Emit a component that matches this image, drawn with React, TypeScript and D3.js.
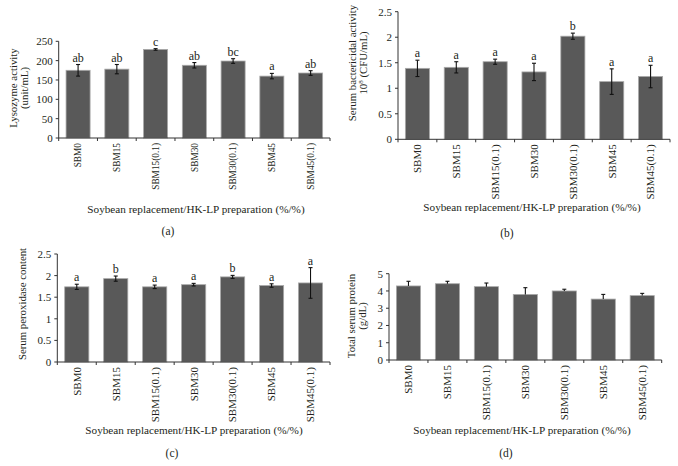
import React from "react";
import * as d3 from "d3";

const categories = ["SBM0", "SBM15", "SBM15(0.1)", "SBM30", "SBM30(0.1)", "SBM45", "SBM45(0.1)"];

const lysozyme = [175, 178, 229, 188, 199, 160, 168];
const lysozymeErr = [15, 12, 2, 7, 6, 7, 6];
const lysozymeLetters = ["ab", "ab", "c", "ab", "bc", "a", "ab"];
const lysozymeTicks = [0, 50, 100, 150, 200, 250];

const bactericidal = [1.39, 1.41, 1.52, 1.32, 2.02, 1.13, 1.23];
const bactericidalErr = [0.16, 0.11, 0.05, 0.17, 0.06, 0.25, 0.22];
const bactericidalLetters = ["a", "a", "a", "a", "b", "a", "a"];
const bactericidalTicks = [0, 0.5, 1, 1.5, 2, 2.5];

const peroxidase = [1.74, 1.93, 1.74, 1.79, 1.97, 1.77, 1.83];
const peroxidaseErr = [0.06, 0.06, 0.04, 0.03, 0.035, 0.04, 0.355];
const peroxidaseLetters = ["a", "b", "a", "a", "b", "a", "a"];
const peroxidaseTicks = [0, 0.5, 1, 1.5, 2, 2.5];

const protein = [4.29, 4.42, 4.25, 3.8, 4.0, 3.53, 3.73];
const proteinErr = [0.27, 0.14, 0.21, 0.39, 0.1, 0.27, 0.13];
const proteinTicks = [0, 1, 2, 3, 4, 5];

const xTitle = "Soybean replacement/HK-LP preparation (%/%)";

const FONT = "'Liberation Serif', 'DejaVu Serif', serif";
const TEXT = "#231f20";

type PanelProps = {
  left: number;
  right: number;
  yTopPx: number;
  yZeroPx: number;
  domainMax: number;
  ticks: number[];
  values: number[];
  errs: number[];
  letters?: string[];
  upperOnly?: boolean;
  catFont: number;
  yTitleLines: React.ReactNode[];
  yTitleX: number[];
  yTitleY: number;
  xTitleX: number;
  xTitleY: number;
  sub: string;
  subX: number;
  subY: number;
};

function Panel(p: PanelProps) {
  const x = d3.scaleBand<string>().domain(categories).range([p.left, p.right]).paddingInner(0.38).paddingOuter(0.19);
  const y = d3.scaleLinear().domain([0, p.domainMax]).range([p.yZeroPx, p.yTopPx]);
  const step = x.step();
  return (
    <g fontFamily={FONT} fill={TEXT}>
      {categories.map((c, i) => {
        const bx = x(c)!;
        const cx = bx + x.bandwidth() / 2;
        const v = p.values[i];
        const e = p.errs[i];
        const top = y(v + e);
        const bot = p.upperOnly ? y(v) : y(v - e);
        return (
          <g key={c}>
            <rect x={bx} y={y(v)} width={x.bandwidth()} height={y(0) - y(v)} fill="#595959" stroke="#a9a9a9" strokeWidth={0.8} />
            <line x1={cx} x2={cx} y1={top} y2={bot} stroke="#111" strokeWidth={1.1} />
            <line x1={cx - 2} x2={cx + 2} y1={top} y2={top} stroke="#111" strokeWidth={1.1} />
            {!p.upperOnly && <line x1={cx - 2} x2={cx + 2} y1={bot} y2={bot} stroke="#111" strokeWidth={1.1} />}
            {p.letters && (
              <text x={cx} y={top - 3} textAnchor="middle" fontSize={12}>
                {p.letters[i]}
              </text>
            )}
            <text
              transform={`translate(${cx + p.catFont * 0.35},${p.yZeroPx + 5}) rotate(-90)`}
              textAnchor="end"
              fontSize={p.catFont}
            >
              {c}
            </text>
          </g>
        );
      })}
      <line x1={p.left} x2={p.left} y1={p.yTopPx} y2={p.yZeroPx} stroke="#333" strokeWidth={1} />
      <line x1={p.left} x2={p.right} y1={p.yZeroPx} y2={p.yZeroPx} stroke="#333" strokeWidth={1} />
      {p.ticks.map((t) => (
        <g key={t}>
          <line x1={p.left - 3} x2={p.left} y1={y(t)} y2={y(t)} stroke="#333" />
          <text x={p.left - 6} y={y(t) + 4} textAnchor="end" fontSize={11}>
            {String(t)}
          </text>
        </g>
      ))}
      {d3.range(categories.length + 1).map((i) => (
        <line key={i} x1={p.left + i * step} x2={p.left + i * step} y1={p.yZeroPx} y2={p.yZeroPx + 3} stroke="#333" />
      ))}
      {p.yTitleLines.map((line, i) => (
        <text key={i} transform={`translate(${p.yTitleX[i]},${p.yTitleY}) rotate(-90)`} textAnchor="middle" fontSize={10.8}>
          {line}
        </text>
      ))}
      <text x={p.xTitleX} y={p.xTitleY} textAnchor="middle" fontSize={11.2}>
        {xTitle}
      </text>
      <text x={p.subX} y={p.subY} textAnchor="middle" fontSize={11.5}>
        {p.sub}
      </text>
    </g>
  );
}

export default function App() {
  return (
    <svg width={678} height={466} style={{ position: "absolute", left: 0, top: 0, background: "#fff" }}>
      <rect width={678} height={466} fill="#fff" />
      <Panel
        left={58.7}
        right={330}
        yTopPx={41.3}
        yZeroPx={138}
        domainMax={250}
        ticks={lysozymeTicks}
        values={lysozyme}
        errs={lysozymeErr}
        letters={lysozymeLetters}
        catFont={9.3}
        yTitleLines={["Lysozyme activity", "(unit/mL)"]}
        yTitleX={[17, 28]}
        yTitleY={88}
        xTitleX={196}
        xTitleY={213}
        sub="(a)"
        subX={168}
        subY={235}
      />
      <Panel
        left={398}
        right={670}
        yTopPx={11.7}
        yZeroPx={139.3}
        domainMax={2.5}
        ticks={bactericidalTicks}
        values={bactericidal}
        errs={bactericidalErr}
        letters={bactericidalLetters}
        catFont={11}
        yTitleLines={[
          "Serum bactericidal activity",
          <>
            10<tspan dy={-4} fontSize={7}>8</tspan>
            <tspan dy={4}> (CFU/mL)</tspan>
          </>,
        ]}
        yTitleX={[356, 367]}
        yTitleY={63}
        xTitleX={532}
        xTitleY={211}
        sub="(b)"
        subX={507}
        subY={237}
      />
      <Panel
        left={57.3}
        right={330}
        yTopPx={254}
        yZeroPx={362}
        domainMax={2.5}
        ticks={peroxidaseTicks}
        values={peroxidase}
        errs={peroxidaseErr}
        letters={peroxidaseLetters}
        catFont={11}
        yTitleLines={["Serum peroxidase content"]}
        yTitleX={[26]}
        yTitleY={304}
        xTitleX={194}
        xTitleY={434}
        sub="(c)"
        subX={172}
        subY={457}
      />
      <Panel
        left={389}
        right={661.7}
        yTopPx={273.7}
        yZeroPx={360}
        domainMax={5}
        ticks={proteinTicks}
        values={protein}
        errs={proteinErr}
        upperOnly
        catFont={11}
        yTitleLines={["Total serum protein", "(g/dL)"]}
        yTitleX={[355, 366]}
        yTitleY={316}
        xTitleX={522}
        xTitleY={434}
        sub="(d)"
        subX={506}
        subY={457}
      />
    </svg>
  );
}
